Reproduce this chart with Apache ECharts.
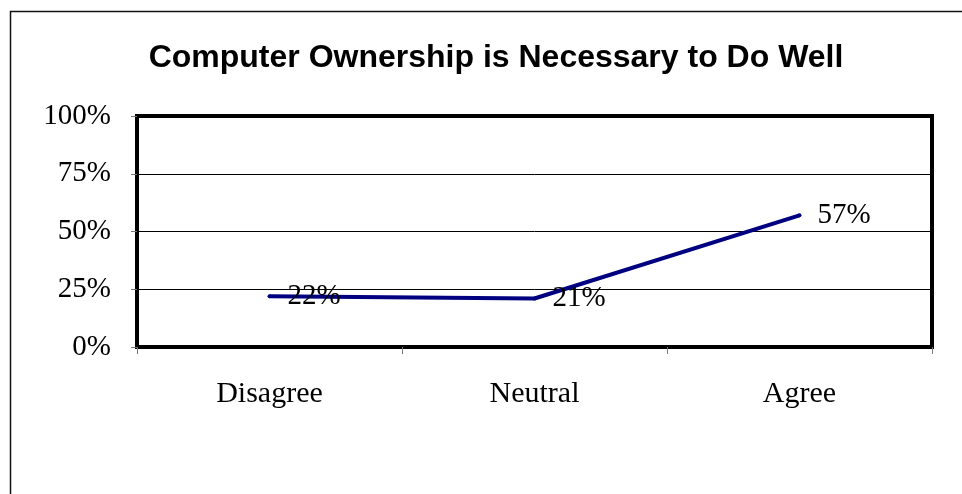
<!DOCTYPE html>
<html><head><meta charset="utf-8">
<script src="https://cdn.jsdelivr.net/npm/echarts@6/dist/echarts.min.js"></script>
<style>html,body{margin:0;padding:0;background:#fff}#c{width:962px;height:494px}</style>
</head><body><div id="c"></div>
<script>
var titleText = 'Computer Ownership is Necessary to Do Well';
var categories = ['Disagree', 'Neutral', 'Agree'];
var values = [22, 21, 57];
var yTicks = [0, 25, 50, 75, 100];

var chart = echarts.init(document.getElementById('c'));
var serif = '"Liberation Serif","Times New Roman",serif';
chart.setOption({
  animation: false,
  backgroundColor: '#fff',
  title: {
    text: titleText, left: 491, top: 37, textAlign: 'center',
    textStyle: {fontFamily: '"Liberation Sans",Arial,sans-serif', fontWeight: 'bold', fontSize: 32, color: '#000'}
  },
  graphic: [{
    type: 'rect', left: 8, top: 9, z: 100, silent: true,
    shape: {x: 0, y: 0, width: 1000, height: 600},
    style: {fill: null, stroke: '#111', lineWidth: 1.5}
  }],
  grid: {left: 137, top: 116, width: 795, height: 231, show: true, borderColor: '#000', borderWidth: 4, backgroundColor: 'transparent'},
  xAxis: {
    type: 'category', data: categories, boundaryGap: true,
    axisLine: {show: false},
    axisTick: {show: true, length: 7, lineStyle: {color: '#777', width: 1}},
    axisLabel: {margin: 32, fontFamily: serif, fontSize: 30, color: '#000'}
  },
  yAxis: {
    type: 'value', min: yTicks[0], max: yTicks[yTicks.length - 1], interval: 25,
    axisLine: {show: false},
    axisTick: {show: true, length: 6, lineStyle: {color: '#777', width: 1}},
    splitLine: {show: true, lineStyle: {color: '#000', width: 1}},
    axisLabel: {margin: 26, fontFamily: serif, fontSize: 29, color: '#000', formatter: '{value}%'}
  },
  series: [{
    type: 'line', data: values, symbol: 'circle', symbolSize: 4, showSymbol: true,
    itemStyle: {color: '#000080'},
    lineStyle: {color: '#000080', width: 4},
    label: {show: true, position: 'right', distance: 16, formatter: '{c}%', fontFamily: serif, fontSize: 29, color: '#000'},
    labelLayout: {hideOverlap: false},
    z: 3
  }]
});
</script></body></html>
